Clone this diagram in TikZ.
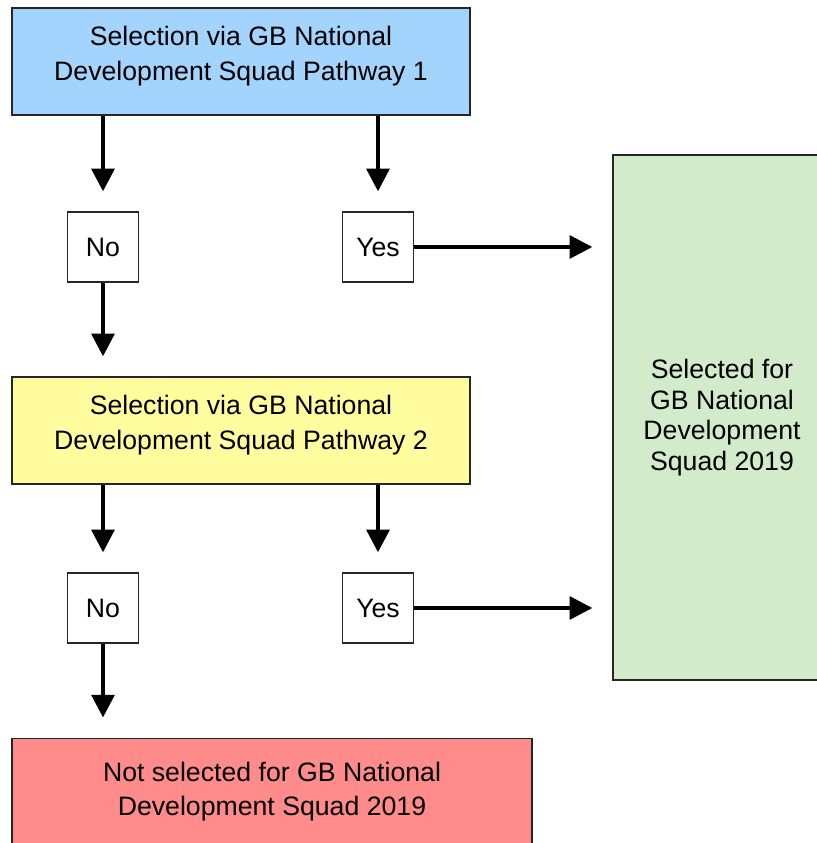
\documentclass[tikz,border=0pt]{standalone}
\usepackage{fontspec}
\setmainfont{Liberation Sans}
\usetikzlibrary{positioning}
\usetikzlibrary{arrows.meta}
\definecolor{pathblue}{HTML}{A3D4FD}
\definecolor{pathyellow}{HTML}{FFFD9E}
\definecolor{selgreen}{HTML}{D2EBCB}
\definecolor{notred}{HTML}{FF8B8B}
\tikzset{
    pathbox/.style = {rectangle, draw=black!85, line width=1pt, align=center, minimum width=343.5pt, minimum height=80.25pt, text depth=12pt, font=\fontsize{20}{26.5}\selectfont},
    answer/.style = {rectangle, draw=black!85, line width=1pt, minimum width=53.5pt, minimum height=52.5pt, font=\fontsize{20}{24}\selectfont},
    resultbox/.style = {rectangle, draw=black!85, line width=1pt, align=center, font=\fontsize{20}{23}\selectfont},
    edgen/.style = {-{Triangle[length=17pt,width=17pt]}, line width=3pt, shorten >=15pt}
}

\begin{document}
\begin{tikzpicture}[x=0.75pt,y=-0.75pt]
\useasboundingbox (0,0) rectangle (817,843);
\clip (0,0) rectangle (817,843);
\fill[white] (0,0) rectangle (817,843);
\node[pathbox,fill=pathblue] at (241, 61.5) (pw1) {Selection via GB National\\Development Squad Pathway 1};
\node[answer] at (103, 247) (no1) {No};
\node[answer] at (378, 247) (yes1) {Yes};
\node[pathbox,fill=pathyellow] at (241, 430.5) (pw2) {Selection via GB National\\Development Squad Pathway 2};
\node[answer] at (103, 608) (no2) {No};
\node[answer] at (378, 608) (yes2) {Yes};
\node[resultbox,fill=selgreen,minimum width=163.5pt,minimum height=393.75pt] at (722, 417.5) (sel) {Selected for\\GB National\\Development\\Squad 2019};
\node[resultbox,fill=notred,minimum width=390pt,minimum height=86pt,text depth=10pt,font=\fontsize{20}{25}\selectfont] at (272, 795.5) (notsel) {Not selected for GB National\\Development Squad 2019};
%
\draw[edgen] (pw1.south -| no1) -- (no1.north);
\draw[edgen] (pw1.south -| yes1) -- (yes1.north);
\draw[edgen] (yes1.east) -- (yes1.east -| sel.west);
\draw[edgen] (no1.south) -- (no1 |- pw2.north);
\draw[edgen] (pw2.south -| no2) -- (no2.north);
\draw[edgen] (pw2.south -| yes2) -- (yes2.north);
\draw[edgen] (yes2.east) -- (yes2.east -| sel.west);
\draw[edgen] (no2.south) -- (no2 |- notsel.north);
\end{tikzpicture}
\end{document}
